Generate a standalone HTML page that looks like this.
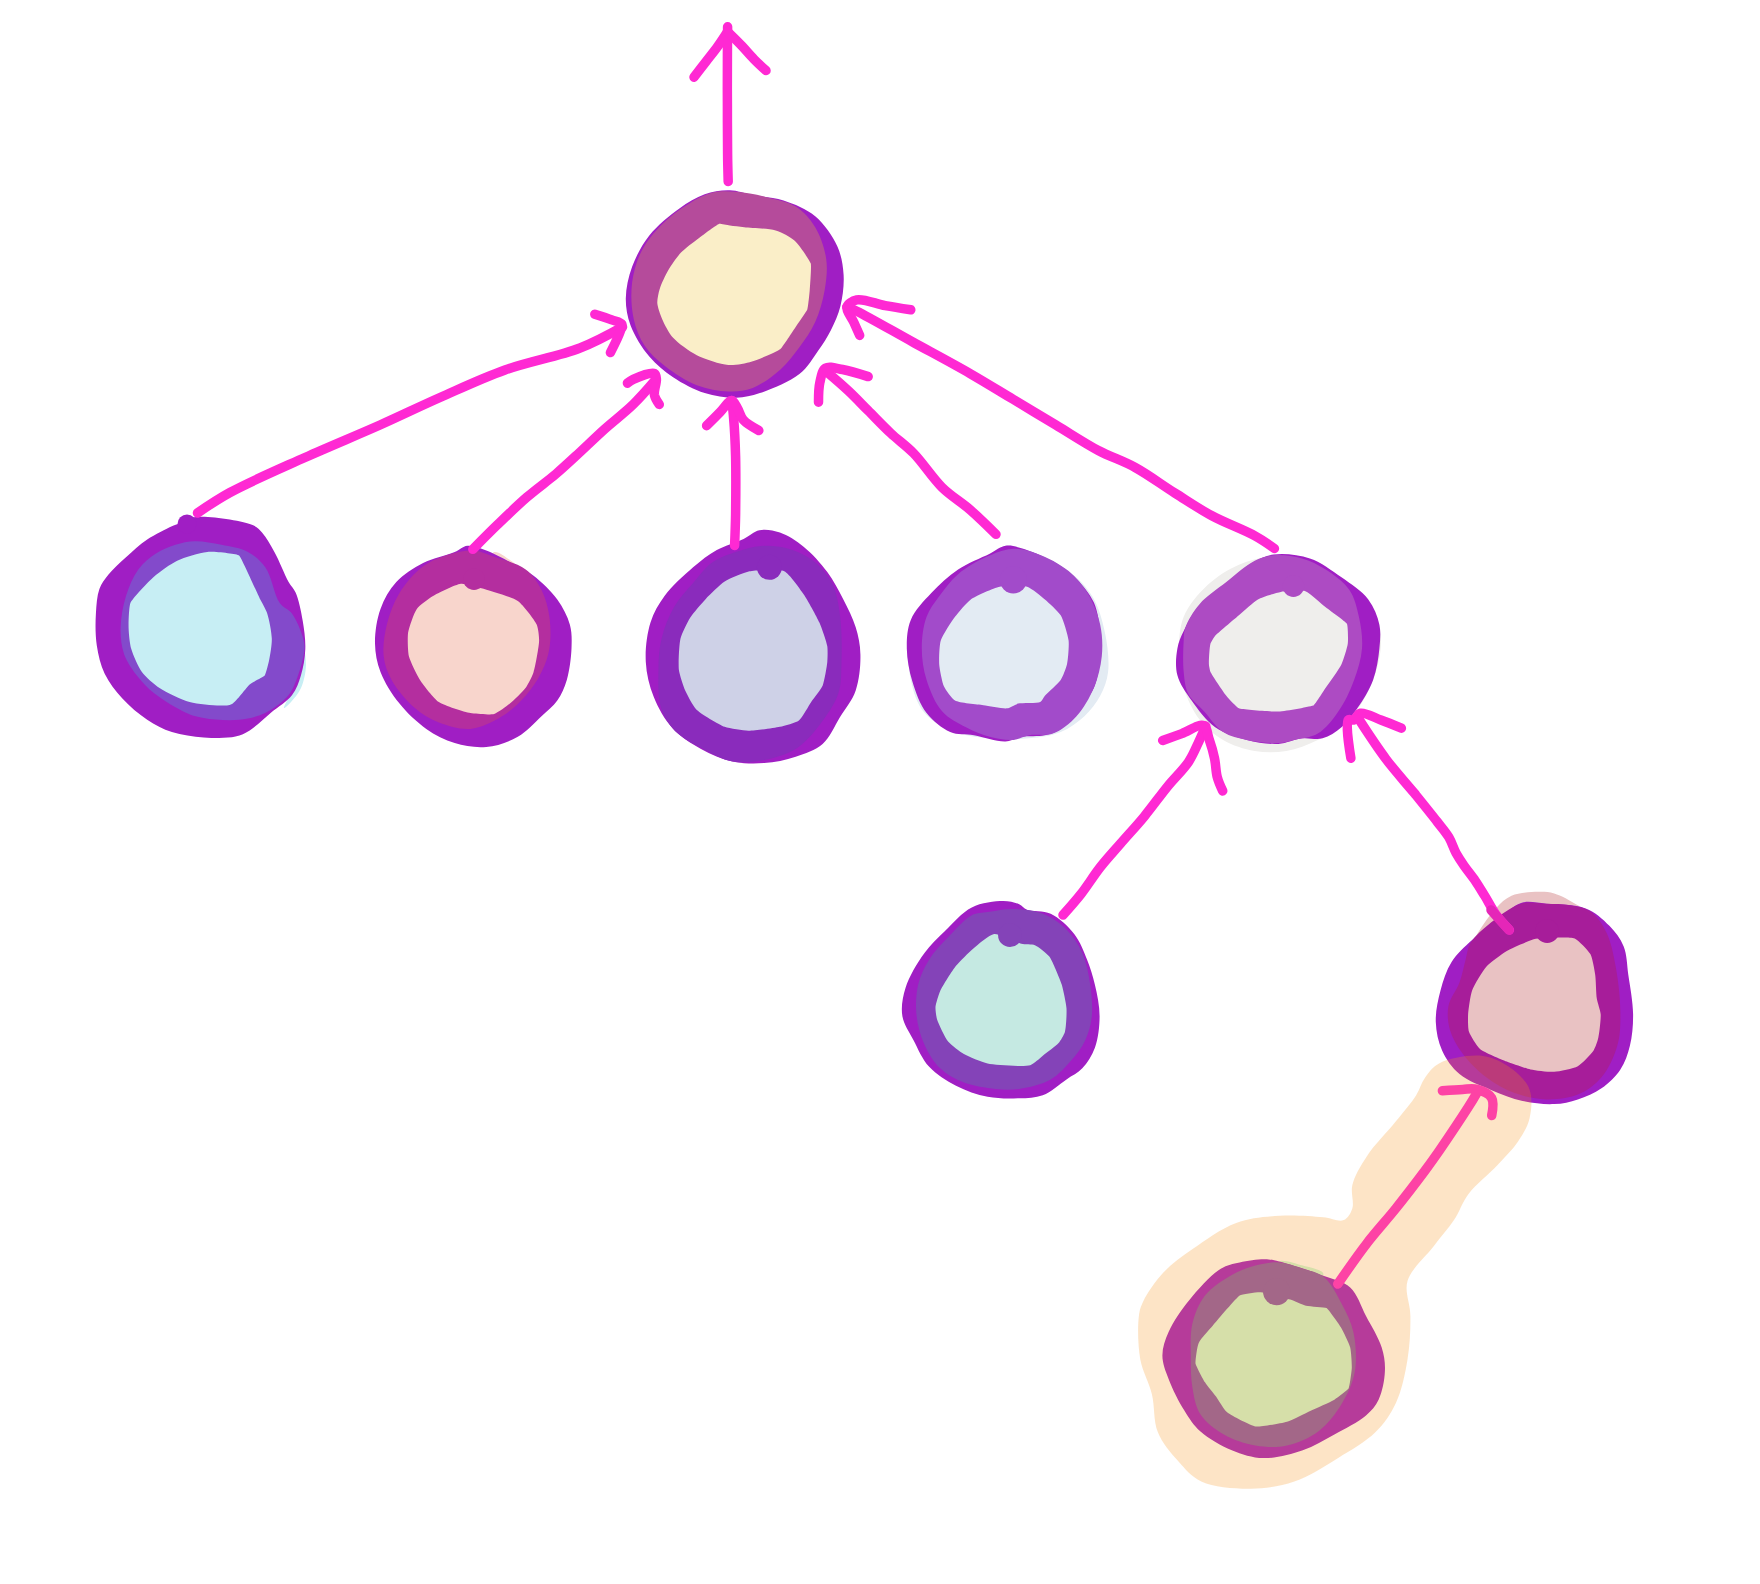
<!DOCTYPE html>
<html><head><meta charset="utf-8"><title>Tree diagram</title>
<style>
html,body{margin:0;padding:0;background:#fff;width:1760px;height:1584px;overflow:hidden;font-family:"Liberation Sans",sans-serif;}
svg{display:block;}
</style></head><body>
<svg width="1760" height="1584" viewBox="0 0 1760 1584">
<path d="M729.9,190.3C737.6,190.5 744.0,193.4 752.0,195.0C761.6,196.9 773.3,197.1 783.6,200.5C794.4,204.1 806.3,208.8 815.2,216.3C824.3,224.0 832.6,235.9 837.3,246.3C841.4,255.5 843.0,264.9 843.6,274.7C844.2,284.9 842.8,296.6 840.4,306.3C838.3,314.9 834.7,322.5 831.0,329.9C827.3,337.2 823.2,343.5 818.3,350.5C812.9,358.2 807.8,367.4 799.4,374.1C789.3,382.2 771.6,389.2 759.9,393.1C751.2,396.0 744.7,397.6 736.3,397.8C726.5,398.0 715.0,396.3 704.7,393.1C693.9,389.7 682.5,383.6 673.1,377.3C664.3,371.4 656.4,365.0 649.5,356.8C642.0,347.9 634.4,335.7 630.5,325.2C627.2,316.2 625.7,307.7 625.8,298.4C625.9,288.3 628.4,277.0 632.1,266.8C636.1,256.0 641.9,244.8 649.5,235.2C657.5,225.2 669.5,215.5 679.4,208.4C687.9,202.4 696.0,197.2 704.7,194.2C712.9,191.4 721.8,190.0 729.9,190.3Z" fill="#a01ec4"/>
<path d="M736.3,191.8C746.1,192.5 757.7,194.8 767.8,197.4C777.6,199.8 788.3,201.7 796.2,206.8C803.9,211.8 810.3,219.2 815.2,227.3C820.5,236.3 824.7,248.2 826.2,258.9C827.7,269.3 826.4,280.1 824.6,290.5C822.8,301.1 819.6,312.4 815.2,322.0C811.0,331.2 805.2,339.4 799.4,347.3C793.6,355.1 787.9,362.8 780.5,369.4C772.4,376.6 761.5,384.8 752.0,388.3C744.1,391.3 736.8,391.8 728.4,391.5C718.6,391.2 707.0,389.1 696.8,385.2C685.9,381.0 674.3,373.3 665.2,366.2C657.2,360.0 650.0,353.6 644.7,345.7C639.5,337.8 635.8,328.7 633.7,318.9C631.2,307.9 630.7,294.1 632.1,282.6C633.5,271.6 636.6,260.7 641.6,251.0C646.6,241.2 654.2,232.1 662.1,224.2C670.0,216.3 680.0,209.1 688.9,203.7C696.8,198.9 704.5,194.6 712.6,192.6C720.3,190.8 727.8,191.2 736.3,191.8Z" fill="#b54b9b"/>
<path d="M718.9,223.9C720.1,223.6 726.8,225.0 729.9,225.5C733.5,225.9 739.6,226.8 744.2,227.3C750.9,228.1 768.6,228.3 775.7,230.5C781.6,232.3 790.2,236.8 794.7,240.8C799.7,245.3 810.0,261.1 810.8,263.6C811.5,266.1 810.2,284.0 809.7,290.5C809.2,296.0 808.0,307.6 807.3,309.4C806.5,311.4 798.1,323.2 794.7,328.4C791.0,333.7 782.4,347.3 780.5,348.9C778.3,350.7 759.4,359.4 752.0,361.5C745.6,363.4 735.1,365.5 728.4,365.0C720.5,364.4 704.3,359.0 696.8,355.2C689.7,351.6 677.9,343.1 673.1,337.8C669.0,333.3 664.2,323.8 662.1,318.9C660.2,314.6 657.6,307.2 657.3,303.1C657.1,299.2 658.5,292.9 659.7,288.9C661.2,284.1 665.6,274.8 668.4,270.0C671.3,265.1 677.1,256.8 681.0,252.6C685.1,248.3 693.5,242.1 698.4,238.4C703.6,234.5 717.1,224.3 718.9,223.9Z" fill="#faeec8"/>
<path d="M303.0,645.0C304.2,645.0 306.2,658.1 306.0,665.0C305.8,672.4 303.9,681.5 301.0,688.0C298.5,693.5 294.2,698.5 291.0,702.0C288.6,704.6 284.7,708.5 284.0,708.0C283.0,707.2 290.5,695.0 293.0,688.0C295.6,680.7 297.3,672.4 299.0,665.0C300.6,658.1 301.8,645.0 303.0,645.0Z" fill="#c7eef4"/>
<path d="M178.0,524.0C182.4,522.3 188.2,517.9 196.0,517.0C209.6,515.5 242.8,520.7 253.2,525.3C257.8,527.3 259.1,529.1 262.0,532.4C266.2,537.1 270.4,544.6 274.4,551.9C279.3,560.7 284.5,574.5 288.6,581.9C291.2,586.4 293.6,587.9 295.6,592.5C298.7,599.5 301.1,611.3 302.7,620.8C304.3,630.2 305.6,639.8 305.3,649.1C305.0,658.1 303.3,667.6 300.9,675.6C298.7,682.7 296.6,689.1 292.1,695.0C287.0,701.7 278.0,706.8 270.9,712.7C263.8,718.6 256.3,726.3 249.7,730.4C244.7,733.5 241.3,735.3 235.5,736.6C227.1,738.5 214.3,738.1 203.7,737.4C193.1,736.7 181.6,735.3 171.9,732.1C162.9,729.2 155.1,725.0 147.2,719.8C138.6,714.1 129.6,706.4 122.4,698.6C115.5,691.0 109.0,682.7 104.7,673.8C100.5,665.0 98.3,655.3 96.8,645.5C95.3,635.3 95.3,623.6 95.9,613.7C96.4,604.9 96.9,595.9 99.4,589.0C101.5,583.4 104.5,579.6 108.3,574.8C112.9,569.0 119.7,562.9 126.0,557.2C132.6,551.2 139.6,544.7 147.2,539.5C154.9,534.3 166.4,528.7 171.9,526.2C174.6,525.0 175.4,525.0 178.0,524.0Z" fill="#a01ec4"/>
<circle cx="187.0" cy="524.0" r="9.5" fill="#a01ec4"/>
<path d="M194.9,541.3C203.0,541.1 212.6,543.1 221.4,544.8C230.3,546.6 240.4,547.8 247.9,551.9C254.9,555.7 260.7,560.7 265.6,567.8C271.9,576.7 274.1,595.2 279.8,603.1C283.5,608.3 288.6,609.0 292.1,613.7C296.5,619.6 300.7,630.1 302.7,636.7C304.1,641.4 304.8,644.2 304.5,649.1C304.1,656.6 300.4,669.1 297.4,677.3C294.9,684.0 293.1,689.6 288.6,695.0C283.2,701.6 274.0,708.6 265.6,712.7C257.4,716.7 248.7,718.8 239.1,719.8C228.2,721.0 213.4,719.7 203.7,718.0C196.7,716.8 192.5,715.6 186.0,712.7C176.7,708.6 162.7,700.0 154.2,693.3C147.6,688.1 143.1,683.4 138.3,677.3C133.0,670.6 127.1,662.6 124.2,654.4C121.3,646.2 120.4,637.1 120.6,627.9C120.8,617.7 122.9,605.9 126.0,596.0C128.9,586.5 132.9,576.8 138.3,569.5C143.2,562.9 149.6,557.8 156.0,553.6C162.0,549.7 168.8,546.9 175.4,544.8C181.8,542.8 187.9,541.5 194.9,541.3Z" fill="#834acb"/>
<path d="M207.3,551.9C215.6,551.2 237.4,554.2 239.1,555.4C241.2,556.9 257.7,594.3 260.3,599.6C261.8,602.6 265.8,609.3 267.3,613.7C269.1,619.3 271.6,632.1 271.8,638.5C272.0,644.4 270.3,654.5 269.2,659.7C268.3,664.3 265.6,674.4 264.7,675.6C263.7,676.9 252.2,682.4 249.7,684.4C246.7,686.9 236.5,701.4 232.0,703.9C229.1,705.5 225.0,705.5 221.4,705.6C215.2,705.8 197.8,704.4 189.6,702.1C181.3,699.8 166.2,692.5 159.5,688.0C153.8,684.2 145.6,677.1 141.9,672.0C138.1,666.8 133.1,655.2 131.3,649.1C129.7,643.5 128.8,633.8 128.6,627.9C128.4,621.6 129.1,606.2 130.4,603.1C132.0,599.3 147.5,582.5 154.2,576.6C160.1,571.4 170.4,564.0 177.2,560.7C184.4,557.3 199.1,552.6 207.3,551.9Z" fill="#c7eef4"/>
<path d="M494.2,552.1C497.6,550.9 505.8,557.0 509.9,560.0C513.3,562.4 518.4,566.0 517.8,567.9C517.2,570.1 506.8,572.1 502.0,571.0C497.3,570.0 490.3,565.1 489.4,561.6C488.7,558.7 491.5,553.0 494.2,552.1Z" fill="#f8d5cc"/>
<path d="M467.3,545.8C472.9,545.2 479.3,547.9 486.3,550.5C495.6,554.0 509.2,561.6 517.8,566.3C524.1,569.7 528.1,571.5 533.6,575.8C541.0,581.6 551.1,590.9 557.3,599.4C562.9,607.3 567.6,616.2 569.9,624.7C572.0,632.5 571.8,639.9 571.5,648.4C571.1,658.2 569.5,670.7 566.8,679.9C564.4,687.7 561.5,694.4 557.3,700.5C553.1,706.5 547.4,710.7 541.5,716.2C534.5,722.7 526.9,731.6 517.8,736.8C508.5,742.0 496.9,746.0 486.3,747.0C475.9,748.0 464.7,746.1 454.7,743.1C444.7,740.0 435.2,735.1 426.3,728.9C416.7,722.2 407.1,713.1 399.5,703.6C391.8,694.1 384.6,682.7 380.5,672.0C376.9,662.6 375.2,653.6 375.0,643.6C374.8,632.7 376.7,619.4 380.5,608.9C384.1,599.0 389.3,589.6 396.3,582.1C403.5,574.3 413.4,568.1 423.1,563.1C432.9,558.1 446.6,555.5 454.7,552.1C459.9,549.9 462.6,546.3 467.3,545.8Z" fill="#a01ec4"/>
<path d="M473.6,550.5C480.7,551.1 486.6,554.2 494.2,556.8C503.6,560.2 517.6,563.3 525.7,569.5C532.8,574.8 537.6,582.3 541.5,590.0C545.6,598.0 548.0,607.4 549.4,616.8C550.8,626.8 551.0,638.7 549.4,648.4C548.0,657.0 545.2,664.4 541.5,672.0C537.5,680.2 532.1,688.5 525.7,695.7C519.0,703.3 511.0,710.8 502.0,716.2C492.7,721.9 481.1,727.9 470.5,728.9C460.1,729.8 448.4,726.2 438.9,722.6C430.1,719.2 422.6,714.7 415.2,708.3C406.7,701.0 396.9,689.5 391.6,679.9C387.2,672.1 384.6,664.8 383.7,656.3C382.6,646.6 384.3,635.0 386.8,624.7C389.5,614.0 393.5,602.8 399.5,593.1C405.5,583.3 414.1,573.0 423.1,566.3C431.6,560.1 442.5,556.3 451.5,553.7C459.2,551.5 466.5,550.0 473.6,550.5Z" fill="#b42e9f"/>
<path d="M460.9,583.8C465.2,583.4 476.7,586.9 481.4,588.2C487.7,590.0 512.1,597.0 517.8,601.0C522.9,604.6 534.8,620.2 536.8,624.7C538.2,628.0 539.2,636.8 539.1,640.5C539.1,645.7 535.3,666.9 533.6,672.0C532.4,675.9 527.9,684.8 525.7,687.8C523.3,691.2 513.2,700.9 509.9,703.6C506.9,706.1 497.8,712.9 494.2,713.9C490.1,715.0 475.5,714.0 470.5,713.1C464.5,712.0 444.1,705.6 438.9,702.0C434.1,698.8 423.0,684.7 420.0,679.9C417.1,675.5 410.1,661.1 408.9,656.3C407.8,651.6 407.4,637.3 408.1,632.6C408.9,627.8 414.1,612.6 416.8,608.9C419.2,605.6 428.8,598.6 432.6,596.3C437.3,593.4 455.6,584.4 460.9,583.8Z" fill="#f8d5cc"/>
<circle cx="474.0" cy="579.2" r="10.8" fill="#b42e9f"/>
<path d="M759.4,530.3C765.6,529.0 773.1,530.3 779.9,532.6C787.8,535.3 796.1,540.8 803.6,546.8C812.0,553.6 820.6,563.1 827.3,572.1C833.6,580.6 838.3,589.7 843.1,598.9C847.8,608.1 852.8,617.8 855.7,627.3C858.4,636.2 860.2,644.5 860.4,654.2C860.7,665.3 859.4,679.6 855.7,690.5C852.3,700.5 845.4,708.4 839.9,717.3C834.4,726.3 830.1,737.5 822.6,744.1C815.3,750.5 805.2,753.6 795.7,756.7C785.8,760.0 774.7,762.3 764.2,763.1C753.7,763.8 742.9,763.7 732.6,761.5C721.9,759.1 711.0,754.3 701.0,748.9C690.9,743.3 680.4,736.9 672.6,728.3C664.6,719.6 658.2,707.9 653.7,696.8C649.3,685.8 646.4,674.0 645.8,662.0C645.1,649.4 646.9,634.2 650.5,622.6C653.7,612.5 658.4,604.4 664.7,595.8C672.0,585.8 683.8,575.4 693.1,567.3C701.1,560.5 708.4,554.7 716.8,550.0C725.2,545.3 736.0,542.6 743.6,538.9C749.7,536.0 753.6,531.4 759.4,530.3Z" fill="#a01ec4"/>
<path d="M761.0,546.0C769.6,545.4 779.4,546.1 787.8,548.4C796.2,550.7 804.4,554.1 811.5,559.5C819.3,565.3 827.3,574.0 832.0,583.1C836.8,592.4 838.3,603.0 839.9,614.7C841.9,628.8 842.0,647.9 841.5,662.0C841.1,673.6 841.7,683.5 838.3,693.6C834.7,704.6 826.7,715.8 819.4,725.2C812.4,734.1 804.9,743.1 795.7,748.9C786.5,754.6 774.8,757.8 764.2,759.9C753.8,761.9 742.5,763.2 732.6,761.5C723.1,759.8 714.7,754.9 705.8,750.4C696.2,745.6 684.9,740.3 677.3,733.1C670.4,726.4 664.8,718.8 661.6,709.4C657.7,698.3 658.3,682.4 658.4,669.9C658.5,658.8 659.0,648.7 661.6,638.4C664.2,627.7 668.7,616.2 674.2,606.8C679.4,597.9 686.7,590.6 693.1,583.1C699.3,575.9 704.7,567.9 712.1,562.6C719.4,557.4 728.9,554.4 737.3,551.6C745.2,548.9 752.8,546.6 761.0,546.0Z" fill="#8a2bbc"/>
<path d="M724.7,581.6C729.1,578.7 744.0,572.4 749.5,571.3C755.7,570.1 778.7,568.7 784.2,571.3C789.3,573.7 800.1,589.2 803.6,594.2C807.2,599.4 817.0,617.1 819.4,622.6C821.5,627.4 826.6,642.0 827.3,646.3C827.8,649.7 827.6,658.6 827.3,662.0C826.9,666.3 824.3,681.6 822.6,685.7C821.0,689.4 813.8,698.2 811.5,701.5C809.0,705.1 802.2,717.9 798.9,720.4C795.8,722.8 784.3,725.8 779.9,726.8C774.5,728.0 754.2,730.8 748.4,730.7C743.3,730.6 729.5,728.5 724.7,726.8C719.1,724.7 700.3,713.5 696.3,709.4C693.0,706.0 687.0,694.4 685.2,690.5C683.5,686.5 679.5,674.5 678.9,669.9C678.2,664.4 679.1,643.9 680.5,638.4C681.7,633.7 687.5,621.7 690.0,617.9C692.5,613.8 702.3,602.5 705.8,598.9C709.3,595.2 720.4,584.3 724.7,581.6Z" fill="#ced1e7"/>
<circle cx="769.4" cy="567.3" r="12.5" fill="#8a2bbc"/>
<path d="M1005.5,545.8C1013.4,544.5 1026.8,549.6 1037.0,553.7C1047.8,557.9 1059.3,563.8 1068.6,571.0C1077.7,578.1 1086.3,586.4 1092.3,596.3C1098.6,606.7 1102.3,620.1 1104.9,632.6C1107.6,645.3 1109.4,660.7 1108.1,672.0C1107.0,681.1 1104.1,688.4 1100.2,695.7C1096.2,703.2 1090.8,710.3 1084.4,716.2C1077.7,722.5 1069.6,728.3 1060.7,732.0C1051.3,735.9 1040.3,737.2 1029.2,738.3C1016.8,739.6 1002.8,739.6 989.7,738.3C976.5,737.0 961.7,735.4 950.2,730.4C939.9,726.0 930.0,719.8 923.4,711.5C916.7,703.0 913.1,690.7 910.8,679.9C908.5,669.6 908.4,658.7 909.2,648.4C910.0,638.2 911.2,627.8 915.5,618.4C920.2,608.2 929.1,598.6 937.6,590.0C946.4,581.1 957.7,572.6 967.6,566.3C976.1,560.9 986.0,557.5 992.9,553.7C997.9,550.9 1000.1,546.6 1005.5,545.8Z" fill="#e3ebf3"/>
<path d="M1005.5,545.8C1010.6,545.0 1015.2,546.4 1021.3,548.2C1030.1,550.7 1043.3,556.2 1052.8,561.6C1061.6,566.6 1069.7,572.1 1076.5,578.9C1083.3,585.8 1089.9,593.8 1093.9,602.6C1097.9,611.6 1099.2,623.1 1100.2,632.6C1101.0,640.9 1101.0,647.8 1100.2,656.3C1099.2,666.1 1098.0,678.5 1093.9,687.8C1089.9,696.8 1082.3,704.4 1076.5,711.5C1071.3,717.9 1066.5,724.9 1060.7,728.9C1055.8,732.3 1050.8,733.8 1044.9,735.2C1038.0,736.8 1028.3,735.5 1021.3,736.8C1015.4,737.8 1011.7,741.2 1005.5,741.5C996.8,741.9 983.7,736.8 973.9,735.2C965.5,733.8 957.7,735.2 950.2,732.0C941.8,728.4 932.8,721.1 926.6,713.1C919.9,704.5 915.7,692.4 912.4,681.5C909.1,670.8 907.0,659.0 906.8,648.4C906.7,638.5 907.1,628.8 910.8,620.0C914.8,610.3 923.5,601.4 931.3,593.1C939.3,584.6 948.4,576.0 958.1,569.5C967.8,562.9 981.0,558.0 989.7,553.7C995.9,550.6 1000.1,546.6 1005.5,545.8Z" fill="#a01ec4"/>
<path d="M1011.8,548.9C1020.1,548.4 1028.4,550.6 1037.0,553.7C1047.3,557.3 1059.9,564.0 1068.6,571.0C1076.4,577.4 1082.4,584.6 1087.6,593.1C1093.1,602.3 1097.8,614.0 1100.2,624.7C1102.4,635.0 1102.8,645.8 1101.8,656.3C1100.7,666.9 1098.0,677.9 1093.9,687.8C1089.6,697.9 1083.6,708.5 1076.5,716.2C1069.8,723.5 1061.2,730.6 1052.8,733.6C1045.3,736.3 1036.2,733.9 1029.2,735.2C1023.3,736.2 1019.2,739.4 1013.4,739.9C1006.3,740.5 997.5,738.8 989.7,736.8C981.7,734.7 973.7,731.3 966.0,727.3C957.9,723.0 948.7,718.7 942.3,711.5C935.2,703.4 930.0,690.7 926.6,679.9C923.3,669.7 921.8,658.9 921.8,648.4C921.8,637.8 923.2,625.9 926.6,616.8C929.5,608.9 934.3,603.1 939.2,596.3C944.6,588.8 950.6,580.6 958.1,574.2C966.2,567.3 977.1,561.1 986.5,556.8C995.0,553.0 1003.3,549.4 1011.8,548.9Z" fill="#a24bca"/>
<path d="M999.8,586.7C1005.2,585.5 1022.4,585.2 1027.1,586.7C1031.3,588.0 1041.6,596.6 1044.9,599.4C1048.3,602.3 1058.4,611.4 1060.7,615.2C1063.3,619.4 1068.0,635.5 1068.6,640.5C1069.2,645.2 1068.0,660.0 1067.0,664.2C1066.2,667.7 1062.7,677.0 1060.7,679.9C1058.5,683.3 1047.1,693.2 1044.9,695.7C1043.6,697.2 1041.8,701.2 1040.2,702.0C1037.6,703.5 1021.7,702.7 1018.1,703.6C1015.5,704.3 1009.7,708.0 1007.1,708.3C1003.3,708.9 988.3,705.9 983.4,705.2C978.0,704.4 959.0,702.9 955.0,700.5C951.8,698.5 945.5,689.6 943.9,686.2C942.2,682.5 939.5,668.7 939.2,664.2C938.9,659.5 939.3,645.0 940.8,640.5C942.3,635.6 951.8,621.0 955.0,616.8C957.9,612.9 966.8,602.3 970.8,599.4C975.4,596.1 993.9,587.9 999.8,586.7Z" fill="#e3ebf3"/>
<circle cx="1013.4" cy="579.8" r="13.6" fill="#a24bca"/>
<path d="M1270.5,556.8C1282.8,555.8 1297.3,555.7 1309.9,560.0C1323.7,564.6 1338.3,576.3 1349.4,585.2C1358.8,592.8 1367.8,599.6 1373.1,608.9C1378.3,618.1 1380.7,629.3 1381.0,640.5C1381.3,652.9 1378.0,667.2 1373.1,679.9C1367.8,693.6 1359.2,709.2 1349.4,719.4C1340.5,728.6 1328.7,734.6 1317.8,739.9C1307.6,744.9 1296.9,749.1 1286.3,751.0C1275.9,752.7 1265.1,752.7 1254.7,751.0C1244.0,749.1 1232.4,745.3 1223.1,739.9C1214.1,734.7 1205.9,727.7 1199.5,719.4C1192.6,710.6 1187.1,698.6 1183.7,687.8C1180.4,677.6 1179.1,667.4 1178.9,656.3C1178.8,643.9 1178.9,628.7 1183.7,616.8C1188.4,605.0 1198.0,594.0 1207.3,585.2C1216.5,576.7 1228.0,569.5 1238.9,564.7C1249.1,560.3 1259.3,557.8 1270.5,556.8Z" fill="#efeeec"/>
<path d="M1273.6,554.5C1283.9,553.1 1298.6,554.6 1309.9,558.4C1321.3,562.2 1331.6,570.4 1341.5,577.3C1351.1,584.1 1361.9,591.0 1368.3,599.4C1374.0,607.0 1377.6,616.2 1379.4,624.7C1381.0,632.5 1380.2,640.0 1379.4,648.4C1378.4,658.2 1376.7,670.0 1373.1,679.9C1369.4,690.0 1363.0,700.1 1357.3,708.3C1352.3,715.6 1347.5,722.2 1341.5,727.3C1335.8,732.1 1329.3,736.5 1322.6,738.3C1316.1,740.1 1309.1,737.5 1302.0,738.3C1294.4,739.2 1286.9,743.4 1278.4,743.9C1268.6,744.4 1257.2,742.6 1246.8,739.9C1236.1,737.2 1224.4,733.7 1215.2,727.3C1205.9,720.7 1198.1,709.6 1191.6,700.5C1185.7,692.2 1179.7,684.1 1177.4,675.2C1175.1,666.7 1176.0,656.2 1177.4,648.4C1178.5,641.8 1180.8,637.1 1183.7,631.0C1187.2,623.6 1191.7,614.7 1197.9,607.3C1204.9,599.0 1215.6,591.9 1224.7,584.5C1234.0,576.9 1244.1,567.5 1253.1,562.4C1260.2,558.4 1265.7,555.5 1273.6,554.5Z" fill="#a01ec4"/>
<path d="M1273.6,555.3C1282.1,554.5 1293.2,555.9 1302.0,558.4C1310.5,560.8 1318.2,564.6 1325.7,569.5C1334.0,574.8 1343.8,581.8 1349.4,590.0C1354.7,597.7 1356.8,607.4 1358.9,616.8C1361.1,626.8 1362.8,637.9 1362.0,648.4C1361.2,659.0 1357.9,669.6 1354.1,679.9C1350.2,690.7 1344.7,702.3 1338.3,711.5C1332.5,720.0 1325.7,728.9 1317.8,733.6C1310.8,737.9 1301.3,738.3 1294.2,739.9C1288.4,741.3 1284.6,742.8 1278.4,743.1C1269.7,743.5 1256.5,742.0 1246.8,739.9C1238.2,738.1 1230.1,736.5 1223.1,732.0C1215.8,727.3 1210.2,718.1 1204.2,711.5C1198.7,705.5 1191.8,700.8 1188.4,694.1C1185.1,687.6 1184.5,680.1 1183.7,672.0C1182.7,662.5 1183.2,648.6 1183.7,640.5C1184.0,635.3 1183.6,632.5 1185.3,627.9C1187.6,621.0 1193.2,611.4 1199.5,604.2C1206.5,596.0 1217.1,589.3 1226.3,582.1C1235.5,574.8 1245.8,565.2 1254.7,560.8C1261.3,557.5 1266.6,555.9 1273.6,555.3Z" fill="#ad4bc3"/>
<path d="M1280.9,591.9C1285.7,591.0 1300.9,589.8 1305.4,591.2C1309.9,592.8 1321.6,604.1 1325.7,607.3C1329.9,610.6 1346.0,621.9 1347.0,623.9C1347.9,625.6 1348.3,639.7 1347.8,643.6C1347.3,647.7 1343.5,660.0 1341.5,664.2C1339.3,668.9 1328.7,683.5 1325.7,687.8C1323.2,691.6 1315.1,704.4 1313.9,705.2C1312.3,706.2 1285.7,711.2 1278.4,711.5C1270.7,711.9 1241.6,709.6 1238.9,708.3C1237.1,707.5 1228.8,698.8 1226.3,695.7C1223.1,691.8 1211.2,673.8 1210.5,672.0C1210.1,671.1 1209.0,666.1 1208.9,664.2C1208.7,661.0 1209.5,646.7 1210.5,643.6C1211.2,641.6 1214.5,636.6 1215.2,635.7C1216.6,634.1 1234.4,619.0 1238.9,615.2C1242.9,611.8 1253.6,601.8 1257.9,599.4C1262.0,597.1 1276.2,592.7 1280.9,591.9Z" fill="#efeeec"/>
<circle cx="1293.4" cy="586.1" r="10.8" fill="#ad4bc3"/>
<path d="M1003.4,901.0C1009.5,901.0 1014.9,902.4 1019.2,904.2C1022.4,905.6 1023.5,908.3 1027.0,909.7C1032.6,912.0 1043.3,910.2 1050.7,913.7C1059.2,917.7 1068.3,926.3 1074.4,934.2C1080.2,941.7 1083.6,950.9 1087.0,959.4C1090.4,967.7 1092.8,975.7 1094.9,984.7C1097.2,994.6 1099.6,1005.7 1099.6,1016.3C1099.6,1026.8 1098.2,1038.7 1094.9,1047.8C1092.0,1055.7 1087.4,1062.9 1082.3,1068.3C1077.7,1073.2 1072.3,1075.4 1066.5,1079.4C1059.4,1084.2 1051.1,1092.1 1042.8,1095.2C1035.3,1098.0 1027.6,1098.0 1019.2,1098.3C1009.4,1098.7 998.0,1098.8 987.6,1096.8C976.9,1094.7 965.8,1090.7 956.0,1085.7C946.3,1080.7 936.3,1074.5 929.2,1066.8C922.2,1059.2 918.0,1048.7 913.4,1039.9C909.2,1031.9 903.8,1024.7 902.4,1016.3C900.9,1007.4 902.5,997.5 905.5,987.9C909.1,976.5 917.3,963.0 924.5,953.1C930.7,944.5 937.5,938.3 945.0,931.0C953.1,923.1 961.8,912.3 971.8,907.4C981.3,902.6 994.7,901.0 1003.4,901.0Z" fill="#a01ec4"/>
<path d="M1011.3,908.9C1021.0,909.0 1033.4,910.0 1042.8,913.7C1051.7,917.1 1059.9,922.9 1066.5,929.5C1073.1,936.0 1078.4,944.3 1082.3,953.1C1086.5,962.6 1088.6,974.1 1090.2,984.7C1091.7,995.1 1092.8,1006.6 1091.8,1016.3C1090.9,1024.8 1088.8,1032.6 1085.4,1039.9C1082.0,1047.3 1076.8,1054.0 1071.2,1060.5C1065.3,1067.2 1058.9,1074.7 1050.7,1079.4C1041.8,1084.5 1029.0,1087.4 1019.2,1088.9C1010.8,1090.1 1003.9,1089.7 995.5,1088.9C985.7,1087.9 973.4,1086.2 963.9,1082.6C955.1,1079.2 946.8,1074.6 940.2,1068.3C933.6,1062.0 928.4,1053.3 924.5,1044.7C920.5,1035.9 917.7,1026.1 916.6,1016.3C915.4,1006.1 915.9,994.4 918.1,984.7C920.3,975.6 924.3,967.2 929.2,959.4C934.2,951.4 941.2,944.5 948.1,937.3C955.4,929.8 964.2,919.2 971.8,915.3C977.2,912.5 981.8,913.1 987.6,912.1C994.7,910.9 1002.8,908.9 1011.3,908.9Z" fill="#8443b8"/>
<path d="M994.1,934.0C999.0,933.4 1016.8,942.8 1021.4,943.8C1024.5,944.5 1032.3,944.2 1034.9,945.2C1037.9,946.4 1047.1,953.7 1049.1,956.3C1051.0,958.5 1054.2,966.2 1055.5,968.9C1056.8,971.9 1060.7,981.2 1061.8,984.7C1063.0,988.9 1066.2,1003.6 1066.5,1008.4C1066.8,1013.1 1066.1,1028.3 1064.9,1032.0C1064.1,1034.8 1060.4,1041.0 1058.6,1043.1C1056.3,1045.8 1045.8,1053.4 1042.8,1055.7C1040.2,1057.8 1033.7,1064.1 1030.2,1065.2C1024.4,1067.0 994.8,1065.1 987.6,1063.6C982.0,1062.4 968.0,1056.5 963.9,1054.1C960.3,1052.0 950.7,1044.7 948.1,1041.5C945.2,1038.0 938.3,1023.3 937.1,1019.4C936.2,1016.6 935.3,1009.4 935.5,1006.8C935.8,1003.8 938.7,994.4 940.2,991.0C942.3,986.4 952.5,970.2 956.0,965.8C959.2,961.8 969.6,951.6 973.4,948.4C977.2,945.2 989.5,934.6 994.1,934.0Z" fill="#c5e9e2"/>
<circle cx="1010.0" cy="935.2" r="11.9" fill="#8443b8"/>
<path d="M1511.5,895.8C1519.0,892.6 1530.6,892.0 1538.4,891.8C1544.3,891.7 1548.5,891.8 1554.2,893.4C1561.4,895.5 1569.6,900.3 1577.8,905.3C1587.8,911.2 1602.0,918.0 1609.4,927.3C1616.4,936.1 1619.3,947.1 1622.0,958.9C1625.2,972.9 1626.0,990.5 1625.2,1006.3C1624.4,1022.1 1623.1,1040.0 1617.3,1053.6C1612.0,1065.9 1603.9,1077.8 1593.6,1085.2C1583.0,1092.7 1568.0,1097.0 1554.2,1097.8C1539.2,1098.6 1521.3,1094.4 1506.8,1088.3C1492.4,1082.3 1476.7,1072.2 1467.3,1061.5C1459.3,1052.3 1454.1,1040.8 1451.6,1029.9C1449.1,1019.7 1450.0,1009.1 1451.6,998.4C1453.3,986.6 1458.0,973.4 1462.6,962.1C1467.0,951.4 1472.6,941.3 1478.4,932.1C1483.8,923.5 1489.7,914.8 1495.8,908.4C1500.8,903.1 1505.1,898.6 1511.5,895.8Z" fill="#e9c2c3"/>
<path d="M1521.0,902.9C1528.8,900.4 1536.9,903.0 1546.3,903.7C1558.0,904.6 1574.7,904.1 1585.7,908.4C1595.2,912.1 1602.9,919.1 1609.4,925.8C1615.3,931.9 1620.4,938.5 1623.6,946.3C1627.0,954.7 1626.9,964.4 1628.3,974.7C1630.1,986.8 1632.9,1001.7 1633.1,1014.2C1633.2,1025.3 1632.3,1036.1 1629.9,1045.7C1627.8,1054.3 1625.1,1062.4 1620.4,1069.4C1615.7,1076.6 1608.7,1083.3 1601.5,1088.3C1594.4,1093.3 1585.9,1096.7 1577.8,1099.4C1570.1,1101.9 1562.6,1103.7 1554.2,1104.1C1544.4,1104.6 1533.0,1103.3 1522.6,1101.0C1511.9,1098.6 1501.4,1094.3 1491.0,1089.9C1480.4,1085.4 1467.8,1081.2 1459.5,1074.1C1451.9,1067.7 1446.0,1059.2 1442.1,1050.5C1438.2,1041.8 1436.1,1031.8 1435.8,1022.0C1435.4,1011.8 1437.8,1000.6 1440.5,990.5C1443.1,980.6 1446.3,970.5 1451.6,962.1C1456.8,953.7 1464.5,946.9 1472.1,940.0C1480.2,932.6 1490.4,925.9 1498.9,919.5C1506.6,913.6 1512.9,905.4 1521.0,902.9Z" fill="#a01ec4"/>
<path d="M1521.0,903.7C1529.4,901.2 1538.0,903.4 1546.3,903.7C1554.3,903.9 1562.4,903.9 1569.9,905.3C1577.1,906.6 1584.6,907.5 1590.5,911.6C1596.9,916.0 1602.2,923.9 1606.2,932.1C1611.0,941.8 1613.4,954.2 1615.7,966.8C1618.4,981.3 1620.4,1000.0 1620.4,1014.2C1620.4,1025.7 1620.3,1035.5 1617.3,1045.7C1614.2,1056.5 1608.5,1068.9 1601.5,1077.3C1595.1,1084.9 1586.8,1091.0 1577.8,1094.6C1568.5,1098.5 1556.8,1099.6 1546.3,1099.4C1535.7,1099.1 1524.7,1096.7 1514.7,1093.1C1504.7,1089.4 1494.9,1083.8 1486.3,1077.3C1477.5,1070.7 1468.8,1062.0 1462.6,1053.6C1457.1,1046.1 1452.3,1038.1 1450.0,1029.9C1447.8,1022.3 1447.0,1014.0 1448.4,1006.3C1449.9,998.2 1456.5,990.6 1459.5,982.6C1462.3,974.8 1463.8,966.0 1465.8,958.9C1467.4,953.1 1467.4,948.3 1470.5,943.1C1474.6,936.2 1483.1,928.9 1491.0,922.6C1499.7,915.6 1511.0,906.6 1521.0,903.7Z" fill="#a71d9a"/>
<path d="M1535.8,938.7C1540.6,937.6 1554.9,937.4 1559.0,937.4C1562.5,937.5 1571.8,937.1 1574.7,938.4C1578.1,940.0 1588.4,950.5 1590.5,954.2C1592.4,957.8 1594.6,970.4 1595.2,974.7C1595.9,979.2 1596.1,994.1 1596.8,998.4C1597.3,1001.9 1600.5,1010.7 1600.7,1014.2C1601.0,1018.4 1599.3,1033.9 1598.3,1037.8C1597.7,1040.8 1595.2,1048.0 1593.6,1050.5C1591.5,1053.7 1581.7,1064.1 1577.8,1066.2C1573.8,1068.5 1558.9,1071.5 1554.2,1071.8C1549.4,1072.1 1535.2,1070.4 1530.5,1069.4C1525.7,1068.4 1511.6,1063.4 1506.8,1061.5C1501.5,1059.4 1483.9,1052.3 1480.0,1048.9C1476.7,1046.0 1470.1,1035.1 1468.9,1031.5C1467.9,1028.2 1467.9,1017.9 1468.1,1014.2C1468.4,1009.8 1470.4,995.1 1472.1,990.5C1473.9,985.6 1482.7,970.8 1486.3,966.8C1489.7,962.9 1502.2,953.7 1506.8,951.0C1511.9,948.0 1530.3,940.0 1535.8,938.7Z" fill="#e9c2c3"/>
<circle cx="1547.2" cy="931.2" r="11.9" fill="#a71d9a"/>
<path d="M1279.2,1261.6C1281.4,1258.7 1295.3,1263.5 1302.8,1265.5C1310.0,1267.5 1322.1,1269.9 1323.3,1273.4C1324.1,1275.7 1321.6,1279.7 1318.6,1281.3C1313.0,1284.3 1293.5,1284.2 1287.0,1279.7C1281.9,1276.2 1277.1,1264.2 1279.2,1261.6Z" fill="#cbf8d8"/>
<path d="M1264.9,1259.2C1270.4,1259.3 1273.2,1260.1 1279.2,1261.6C1289.9,1264.2 1310.6,1270.9 1323.3,1275.8C1333.5,1279.6 1343.2,1281.2 1350.2,1287.6C1357.6,1294.4 1360.8,1306.2 1366.0,1316.0C1371.3,1326.2 1378.7,1337.6 1381.7,1347.6C1384.3,1355.8 1385.3,1363.0 1384.9,1371.3C1384.5,1380.3 1382.3,1391.9 1378.6,1399.7C1375.5,1406.1 1371.7,1410.4 1366.0,1415.5C1358.2,1422.2 1345.0,1428.6 1334.4,1434.4C1324.0,1440.1 1314.2,1446.3 1302.8,1450.2C1290.7,1454.3 1275.8,1458.4 1263.4,1458.1C1252.2,1457.8 1242.0,1454.4 1231.8,1450.2C1220.9,1445.7 1208.5,1438.6 1200.2,1431.2C1193.4,1425.1 1189.4,1418.6 1184.5,1410.7C1178.7,1401.6 1172.4,1389.1 1168.7,1379.2C1165.5,1370.9 1162.4,1363.4 1162.4,1355.5C1162.4,1347.6 1165.0,1340.0 1168.7,1331.8C1173.2,1321.7 1181.0,1310.4 1189.2,1300.2C1198.1,1289.2 1210.9,1274.8 1220.8,1268.7C1227.4,1264.6 1232.8,1263.9 1239.7,1262.4C1247.4,1260.6 1257.7,1259.1 1264.9,1259.2Z" fill="#a01ec4"/>
<path d="M1279.2,1262.4C1287.1,1262.9 1295.3,1266.2 1302.8,1268.7C1310.0,1271.0 1317.3,1271.7 1323.3,1276.6C1330.9,1282.6 1337.2,1295.4 1342.3,1305.0C1347.0,1313.8 1351.1,1321.8 1353.3,1331.8C1355.9,1343.5 1357.0,1359.1 1354.9,1371.3C1353.0,1382.6 1348.1,1393.0 1342.3,1402.8C1336.2,1413.1 1328.0,1424.1 1318.6,1431.2C1309.5,1438.1 1297.8,1443.1 1287.0,1445.4C1276.8,1447.7 1265.9,1447.2 1255.5,1445.4C1244.8,1443.6 1233.2,1439.8 1223.9,1434.4C1214.9,1429.2 1205.5,1422.1 1200.2,1413.9C1195.3,1406.1 1193.9,1396.5 1192.3,1387.0C1190.7,1377.0 1190.8,1366.0 1190.8,1355.5C1190.8,1345.0 1190.0,1333.9 1192.3,1323.9C1194.7,1314.0 1198.6,1303.6 1205.0,1295.5C1211.6,1287.1 1222.8,1280.1 1231.8,1275.0C1239.6,1270.5 1247.5,1267.6 1255.5,1265.5C1263.2,1263.5 1271.3,1261.9 1279.2,1262.4Z" fill="#8758ac"/>
<path d="M1239.7,1295.5C1241.7,1294.4 1256.2,1292.0 1260.7,1292.2C1266.1,1292.4 1285.3,1298.0 1290.2,1299.6C1293.9,1300.8 1302.6,1304.9 1306.0,1305.8C1309.8,1306.7 1324.8,1307.2 1326.5,1308.1C1328.3,1309.2 1338.3,1323.1 1340.7,1327.1C1343.0,1331.0 1349.1,1343.4 1350.2,1347.6C1351.2,1351.6 1351.9,1364.0 1351.8,1368.1C1351.6,1372.2 1349.5,1387.0 1348.6,1388.6C1347.7,1390.1 1337.7,1397.6 1334.4,1399.7C1330.4,1402.1 1315.5,1408.5 1310.7,1410.7C1306.0,1412.9 1292.2,1420.2 1287.0,1421.8C1281.3,1423.5 1259.5,1427.1 1255.5,1426.5C1251.5,1425.9 1231.2,1415.8 1227.1,1412.3C1223.9,1409.6 1218.3,1399.6 1216.0,1396.5C1213.8,1393.6 1207.0,1385.5 1205.0,1382.3C1202.8,1378.9 1195.8,1365.4 1195.5,1363.4C1195.2,1361.4 1197.0,1346.6 1198.7,1342.9C1200.4,1339.0 1209.5,1329.4 1212.9,1325.5C1217.3,1320.3 1236.9,1297.0 1239.7,1295.5Z" fill="#cbf8d8"/>
<circle cx="1276.6" cy="1291.6" r="13.6" fill="#8758ac"/>
<path d="M728.2,181.6C728.2,181.6 727.7,164.5 727.6,154.0C727.4,140.2 727.4,122.0 727.4,106.0C727.3,90.0 727.3,72.3 727.4,58.0C727.4,46.5 727.6,26.8 727.6,26.8" fill="none" stroke="#ff29d3" stroke-width="9.5" stroke-linecap="round" stroke-linejoin="round"/>
<path d="M694.0,77.2C694.0,77.2 702.0,66.8 706.0,61.6C710.0,56.4 714.3,51.2 718.0,46.0C721.5,41.2 727.6,31.6 727.6,31.6" fill="none" stroke="#ff29d3" stroke-width="9.5" stroke-linecap="round" stroke-linejoin="round"/>
<path d="M728.8,32.8C728.8,32.8 737.8,41.5 742.0,46.0C746.1,50.4 749.9,55.0 754.0,59.2C757.9,63.2 766.0,70.6 766.0,70.6" fill="none" stroke="#ff29d3" stroke-width="9.5" stroke-linecap="round" stroke-linejoin="round"/>
<path d="M197.5,513.0C197.5,513.0 216.7,499.8 230.0,492.5C249.6,481.8 279.9,468.8 305.0,457.5C329.9,446.3 356.4,435.5 380.0,425.0C401.2,415.6 419.5,406.5 440.0,397.5C461.2,388.2 482.3,378.1 505.0,370.0C528.9,361.5 558.8,356.3 580.0,348.0C596.5,341.6 622.5,327.0 622.5,327.0" fill="none" stroke="#ff29d3" stroke-width="9.5" stroke-linecap="round" stroke-linejoin="round"/>
<path d="M594.8,314.2C594.8,314.2 606.9,318.0 611.8,319.9C615.6,321.3 620.6,321.9 621.8,324.1C622.7,326.0 621.3,328.3 620.3,331.2C618.6,336.5 610.4,352.6 610.4,352.6" fill="none" stroke="#ff29d3" stroke-width="9.5" stroke-linecap="round" stroke-linejoin="round"/>
<path d="M472.8,549.3C472.8,549.3 489.2,532.7 498.0,524.2C507.2,515.3 517.1,505.7 526.9,497.2C536.4,488.9 547.3,481.3 555.9,474.0C563.1,467.9 568.2,463.1 575.2,456.6C583.9,448.6 594.5,438.3 604.2,429.5C613.8,420.9 624.5,412.9 633.2,404.4C641.1,396.8 654.4,381.2 654.4,381.2" fill="none" stroke="#ff29d3" stroke-width="9.5" stroke-linecap="round" stroke-linejoin="round"/>
<path d="M627.4,383.2C627.4,383.2 630.5,380.5 633.2,379.3C637.9,377.2 651.2,371.8 654.4,373.5C656.1,374.4 656.1,376.9 656.4,379.3C656.7,383.2 653.7,390.3 654.4,394.8C655.1,398.5 659.3,404.4 659.3,404.4" fill="none" stroke="#ff29d3" stroke-width="9.5" stroke-linecap="round" stroke-linejoin="round"/>
<path d="M734.6,545.5C734.6,545.5 735.4,526.5 735.6,514.5C735.8,498.2 736.0,474.0 735.6,456.6C735.2,442.4 734.5,428.3 733.6,418.0C733.1,411.0 731.7,400.6 731.7,400.6" fill="none" stroke="#ff29d3" stroke-width="9.5" stroke-linecap="round" stroke-linejoin="round"/>
<path d="M706.6,425.7C706.6,425.7 715.8,416.5 720.1,412.2C724.1,408.1 728.6,400.3 731.7,400.6C734.1,400.7 735.7,405.4 737.5,408.3C739.6,411.7 740.3,416.4 743.3,419.9C746.9,424.0 758.8,430.5 758.8,430.5" fill="none" stroke="#ff29d3" stroke-width="9.5" stroke-linecap="round" stroke-linejoin="round"/>
<path d="M996.0,534.3C996.0,534.3 979.4,517.9 970.5,510.1C961.4,502.2 951.1,496.3 942.0,487.4C932.1,477.6 922.9,462.8 913.6,453.3C906.0,445.4 898.4,440.4 890.9,433.4C883.2,426.2 875.5,418.0 868.2,410.7C861.3,403.8 855.3,397.3 848.3,390.8C841.1,384.0 825.6,370.9 825.6,370.9" fill="none" stroke="#ff29d3" stroke-width="9.5" stroke-linecap="round" stroke-linejoin="round"/>
<path d="M868.2,376.6C868.2,376.6 850.3,370.9 842.6,369.5C836.4,368.4 829.4,365.7 825.6,368.1C822.0,370.3 821.1,377.0 819.9,382.3C818.5,388.2 818.5,402.2 818.5,402.2" fill="none" stroke="#ff29d3" stroke-width="9.5" stroke-linecap="round" stroke-linejoin="round"/>
<path d="M1274.4,548.5C1274.4,548.5 1262.6,540.1 1254.5,535.7C1243.2,529.4 1225.4,523.1 1211.9,515.8C1199.0,508.8 1187.5,500.9 1175.0,493.1C1161.9,484.9 1148.5,474.8 1135.2,467.5C1122.9,460.7 1110.9,457.1 1098.3,450.5C1084.4,443.1 1069.9,433.4 1055.7,424.9C1041.5,416.4 1027.3,407.8 1013.1,399.3C998.9,390.8 985.8,382.6 970.5,373.8C953.0,363.7 932.6,352.9 913.6,342.5C894.7,332.1 868.1,316.7 856.8,311.2C852.2,309.0 846.9,307.0 846.9,307.0" fill="none" stroke="#ff29d3" stroke-width="9.5" stroke-linecap="round" stroke-linejoin="round"/>
<path d="M910.8,309.8C910.8,309.8 894.0,307.2 885.2,305.6C876.0,303.9 863.6,298.4 856.8,299.9C852.4,300.8 847.8,303.7 846.9,307.0C845.8,310.9 851.8,317.7 854.0,322.6C856.0,327.1 859.7,335.4 859.7,335.4" fill="none" stroke="#ff29d3" stroke-width="9.5" stroke-linecap="round" stroke-linejoin="round"/>
<path d="M1063.0,915.0C1063.0,915.0 1075.1,901.5 1081.0,894.0C1087.4,885.8 1093.4,876.0 1100.0,867.5C1106.5,859.2 1113.4,851.8 1120.5,843.6C1128.1,834.8 1136.5,825.9 1144.3,816.4C1152.4,806.6 1160.4,795.2 1168.2,785.7C1175.2,777.2 1183.3,769.8 1188.6,761.8C1193.1,755.0 1195.9,747.8 1198.9,741.4C1201.5,735.9 1205.7,726.0 1205.7,726.0" fill="none" stroke="#ff29d3" stroke-width="9.5" stroke-linecap="round" stroke-linejoin="round"/>
<path d="M1162.7,740.5C1162.7,740.5 1175.3,736.0 1181.8,733.6C1188.9,731.1 1199.1,723.5 1203.6,725.5C1207.2,727.0 1207.4,734.1 1209.1,739.1C1211.1,744.9 1213.2,751.8 1214.5,758.2C1215.9,764.5 1215.7,771.5 1217.3,777.3C1218.6,782.3 1222.7,790.9 1222.7,790.9" fill="none" stroke="#ff29d3" stroke-width="9.5" stroke-linecap="round" stroke-linejoin="round"/>
<path d="M1509.4,930.0C1509.4,930.0 1500.1,920.3 1496.1,914.8C1491.9,909.0 1488.4,901.8 1484.8,895.9C1481.5,890.6 1478.7,885.8 1475.3,880.8C1471.8,875.7 1467.4,870.5 1464.0,865.6C1461.0,861.3 1458.5,857.5 1456.0,853.0C1453.4,848.1 1451.8,842.3 1448.8,837.2C1445.7,831.9 1441.9,827.8 1437.4,822.0C1431.2,814.0 1422.7,803.5 1414.7,793.6C1405.8,782.7 1395.3,771.5 1386.3,759.5C1377.0,747.2 1359.8,720.7 1359.8,720.7" fill="none" stroke="#ff29d3" stroke-width="9.5" stroke-linecap="round" stroke-linejoin="round"/>
<path d="M1401.4,728.2C1401.4,728.2 1387.8,722.5 1380.9,720.0C1374.1,717.5 1365.2,712.1 1360.5,713.2C1357.3,713.9 1356.0,719.0 1353.6,720.0C1351.9,720.7 1349.4,718.7 1348.2,720.0C1344.9,723.5 1350.9,758.2 1350.9,758.2" fill="none" stroke="#ff29d3" stroke-width="9.5" stroke-linecap="round" stroke-linejoin="round"/>
<path d="M1491,910L1500,920L1509,930" fill="none" stroke="#e526b8" stroke-width="9.5" stroke-linecap="round"/>
<path d="M1337.8,1284.0C1337.8,1284.0 1356.9,1256.2 1366.9,1243.3C1376.3,1231.1 1386.3,1220.4 1395.9,1208.4C1405.7,1196.2 1417.0,1181.4 1425.0,1170.7C1430.7,1162.9 1433.9,1158.5 1439.5,1150.4C1447.6,1138.6 1461.7,1117.5 1468.5,1106.8C1472.4,1100.7 1477.2,1092.3 1477.2,1092.3" fill="none" stroke="#ff29d3" stroke-width="9.5" stroke-linecap="round" stroke-linejoin="round"/>
<path d="M1442.4,1090.8C1442.4,1090.8 1456.5,1089.6 1462.7,1089.4C1467.9,1089.2 1472.6,1088.1 1477.2,1089.4C1482.3,1090.8 1489.3,1093.8 1491.7,1098.1C1494.2,1102.5 1491.7,1115.5 1491.7,1115.5" fill="none" stroke="#ff29d3" stroke-width="9.5" stroke-linecap="round" stroke-linejoin="round"/>
<path d="M1439.5,1063.2C1449.6,1058.0 1470.2,1054.3 1483.0,1056.0C1493.9,1057.4 1504.1,1063.1 1512.1,1069.0C1519.4,1074.5 1526.5,1081.4 1529.5,1089.4C1532.6,1097.7 1531.6,1109.5 1529.5,1118.4C1527.5,1126.8 1522.9,1134.2 1517.9,1141.7C1512.4,1149.8 1505.1,1156.8 1497.6,1164.9C1488.9,1174.2 1476.0,1184.0 1468.5,1193.9C1462.1,1202.4 1459.6,1211.6 1454.0,1220.1C1448.1,1229.0 1440.8,1236.8 1433.7,1246.2C1425.5,1257.0 1411.1,1268.7 1407.5,1281.1C1404.3,1292.1 1410.3,1303.6 1410.4,1315.9C1410.5,1329.6 1409.9,1345.1 1407.5,1359.5C1405.1,1374.1 1401.8,1390.4 1395.9,1403.0C1390.7,1414.2 1384.4,1423.3 1375.6,1432.1C1365.6,1442.0 1351.1,1450.1 1337.8,1458.2C1324.0,1466.6 1309.2,1476.4 1294.3,1481.5C1280.1,1486.3 1265.7,1488.6 1250.7,1488.7C1234.8,1488.9 1214.1,1487.3 1201.3,1481.5C1191.3,1476.8 1185.1,1469.0 1178.1,1461.1C1170.5,1452.7 1162.1,1443.0 1157.8,1432.1C1153.2,1420.8 1154.9,1406.5 1151.9,1394.3C1149.1,1382.3 1142.6,1371.9 1140.3,1359.5C1137.9,1345.9 1137.5,1326.5 1138.9,1315.9C1139.7,1309.7 1140.6,1306.8 1143.2,1301.4C1147.3,1293.1 1155.5,1281.0 1163.6,1272.3C1171.9,1263.5 1181.7,1256.7 1192.6,1249.1C1205.4,1240.2 1221.1,1228.5 1236.2,1223.0C1250.2,1217.8 1265.2,1216.7 1279.7,1215.7C1294.2,1214.8 1311.5,1216.1 1323.3,1217.2C1331.4,1217.9 1338.7,1222.1 1343.6,1220.1C1347.8,1218.3 1350.7,1213.3 1352.3,1208.4C1354.4,1202.3 1350.5,1193.2 1352.3,1185.2C1354.6,1175.8 1360.5,1165.9 1366.9,1156.2C1374.4,1144.6 1387.2,1132.2 1395.9,1121.3C1403.4,1112.0 1411.2,1103.2 1416.2,1095.2C1420.1,1089.0 1421.2,1083.0 1425.0,1077.8C1428.8,1072.3 1432.6,1066.8 1439.5,1063.2Z" fill="rgba(249,146,28,0.25)"/>
</svg>
</body></html>
